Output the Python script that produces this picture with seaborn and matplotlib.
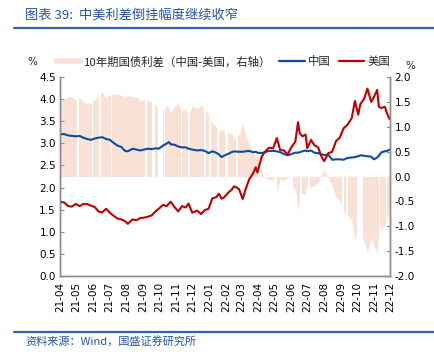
import matplotlib
matplotlib.use("Agg")
import matplotlib.pyplot as plt
import matplotlib.dates as mdates
from matplotlib.lines import Line2D
import seaborn as sns
import pandas as pd

# weekly-ish readings of the 10y government bond yields (%)
dates = [
    "2021-04-01", "2021-04-09", "2021-04-16", "2021-04-23", "2021-04-30", "2021-05-07",
    "2021-05-14", "2021-05-21", "2021-05-28", "2021-06-04", "2021-06-11", "2021-06-18",
    "2021-06-25", "2021-07-02", "2021-07-09", "2021-07-16", "2021-07-23", "2021-07-30",
    "2021-08-04", "2021-08-13", "2021-08-20", "2021-08-27", "2021-09-03", "2021-09-10",
    "2021-09-17", "2021-09-24", "2021-09-30", "2021-10-08", "2021-10-15", "2021-10-19",
    "2021-10-22", "2021-10-29", "2021-11-05", "2021-11-12", "2021-11-19", "2021-11-24",
    "2021-12-01", "2021-12-10", "2021-12-17", "2021-12-24", "2021-12-31", "2022-01-07",
    "2022-01-14", "2022-01-19", "2022-01-24", "2022-01-28", "2022-02-08", "2022-02-11",
    "2022-02-16", "2022-02-25", "2022-03-04", "2022-03-09", "2022-03-16", "2022-03-23",
    "2022-03-28", "2022-03-31", "2022-04-08", "2022-04-14", "2022-04-21", "2022-04-29",
    "2022-05-06", "2022-05-12", "2022-05-19", "2022-05-26", "2022-06-02", "2022-06-09",
    "2022-06-14", "2022-06-17", "2022-06-22", "2022-06-28", "2022-07-01", "2022-07-08",
    "2022-07-14", "2022-07-21", "2022-07-28", "2022-08-01", "2022-08-09", "2022-08-16",
    "2022-08-23", "2022-08-30", "2022-09-06", "2022-09-13", "2022-09-21", "2022-09-27",
    "2022-10-03", "2022-10-07", "2022-10-14", "2022-10-20", "2022-10-27", "2022-11-01",
    "2022-11-07", "2022-11-10", "2022-11-15", "2022-11-21", "2022-11-25", "2022-11-30",
]
cn_10y = [
    3.21, 3.21, 3.18, 3.17, 3.16, 3.17,
    3.13, 3.10, 3.08, 3.11, 3.13, 3.14,
    3.10, 3.08, 3.01, 2.95, 2.92, 2.83,
    2.82, 2.88, 2.86, 2.84, 2.86, 2.88,
    2.87, 2.89, 2.88, 2.95, 3.00, 3.03,
    2.98, 2.97, 2.93, 2.91, 2.91, 2.88,
    2.86, 2.84, 2.85, 2.83, 2.78, 2.82,
    2.79, 2.75, 2.69, 2.72, 2.78, 2.80,
    2.82, 2.81, 2.81, 2.82, 2.83, 2.80,
    2.81, 2.79, 2.78, 2.80, 2.83, 2.83,
    2.82, 2.80, 2.76, 2.73, 2.76, 2.79,
    2.79, 2.80, 2.82, 2.84, 2.82, 2.84,
    2.79, 2.78, 2.75, 2.74, 2.74, 2.63,
    2.64, 2.64, 2.63, 2.67, 2.68, 2.69,
    2.71, 2.73, 2.72, 2.71, 2.70, 2.64,
    2.68, 2.72, 2.80, 2.82, 2.83, 2.86,
]
us_10y = [
    1.68, 1.66, 1.58, 1.57, 1.63, 1.58,
    1.63, 1.63, 1.59, 1.56, 1.46, 1.44,
    1.52, 1.43, 1.36, 1.30, 1.28, 1.24,
    1.18, 1.28, 1.26, 1.31, 1.32, 1.34,
    1.37, 1.46, 1.52, 1.61, 1.58, 1.64,
    1.68, 1.56, 1.46, 1.58, 1.55, 1.64,
    1.43, 1.48, 1.40, 1.49, 1.52, 1.76,
    1.78, 1.86, 1.75, 1.77, 1.92, 1.94,
    2.03, 1.97, 1.74, 1.95, 2.19, 2.32,
    2.46, 2.34, 2.70, 2.81, 2.90, 2.89,
    3.12, 2.85, 2.84, 2.75, 2.92, 3.04,
    3.48, 3.23, 3.16, 3.20, 2.89, 3.08,
    2.96, 2.91, 2.68, 2.60, 2.78, 2.81,
    3.05, 3.13, 3.34, 3.42, 3.57, 3.96,
    3.65, 3.89, 4.01, 4.24, 3.94, 4.05,
    4.21, 3.83, 3.80, 3.83, 3.68, 3.55,
]
# trading days missing in one of the two markets (blank slots in the spread)
missing_days = [
    "2021-05-03", "2021-05-04", "2021-05-05", "2021-05-31", "2021-06-14", "2021-07-05",
    "2021-09-06", "2021-09-20", "2021-09-21", "2021-10-01", "2021-10-04", "2021-10-05",
    "2021-10-06", "2021-10-07", "2021-10-11", "2021-11-11", "2021-11-25", "2021-12-24",
    "2022-01-03", "2022-01-17", "2022-01-31", "2022-02-01", "2022-02-02", "2022-02-03",
    "2022-02-04", "2022-02-21", "2022-04-04", "2022-04-05", "2022-04-15", "2022-05-02",
    "2022-05-03", "2022-05-04", "2022-05-30", "2022-06-03", "2022-06-20", "2022-07-04",
    "2022-09-05", "2022-09-12", "2022-10-03", "2022-10-04", "2022-10-05", "2022-10-06",
    "2022-10-07", "2022-10-10", "2022-11-11", "2022-11-24",
]
xtick_start, xtick_end = "2021-04-01", "2022-12-01"

BLUE = "#0a4ca3"
RED = "#c00000"
PEACH = "#f9e2d5"
GREY = "#8c8c8c"
TITLE_BLUE = "#2356a8"
CJK = ["Noto Sans CJK SC", "DejaVu Sans"]

sns.set_theme(style="white")
plt.rcParams["font.family"] = ["DejaVu Sans", "Noto Sans CJK SC"]

df = pd.DataFrame({"date": pd.to_datetime(dates), "中国": cn_10y, "美国": us_10y})
df["利差"] = df["中国"] - df["美国"]

fig = plt.figure(figsize=(4.35, 3.57), dpi=100)
ax1 = fig.add_axes([0.138, 0.227, 0.759, 0.557])
ax2 = ax1.twinx()
ax1.set_zorder(ax2.get_zorder() + 1)
ax1.patch.set_visible(False)

# spread area on the right axis, with blank slots on missing days
ax2.fill_between(df["date"], df["利差"], 0, color=PEACH, linewidth=0, zorder=1)
half = pd.Timedelta(hours=36)
for d in pd.to_datetime(missing_days):
    ax2.axvspan(d - half, d + half, color="white", linewidth=0, zorder=1.5)

sns.lineplot(data=df, x="date", y="中国", ax=ax1, color=BLUE, linewidth=1.5, legend=False)
sns.lineplot(data=df, x="date", y="美国", ax=ax1, color=RED, linewidth=1.5, legend=False)

ax1.set_ylim(0, 4.5)
ax1.set_yticks([i * 0.5 for i in range(10)])
ax1.yaxis.set_major_formatter(matplotlib.ticker.FormatStrFormatter("%.1f"))
ax2.set_ylim(-2, 2)
ax2.set_yticks([-2 + i * 0.5 for i in range(9)])
ax2.yaxis.set_major_formatter(matplotlib.ticker.FormatStrFormatter("%.1f"))

ax1.set_xlim(pd.Timestamp(xtick_start), pd.Timestamp(xtick_end))
ax1.set_xticks(pd.date_range(xtick_start, xtick_end, freq="MS"))
ax1.xaxis.set_major_formatter(mdates.DateFormatter("%y-%m"))
ax1.set_xlabel("")
ax1.set_ylabel("")
ax2.set_ylabel("")

for ax in (ax1, ax2):
    for side in ("left", "right", "bottom"):
        ax.spines[side].set_color(GREY)
        ax.spines[side].set_linewidth(1.0)
    ax.spines["top"].set_visible(False)
    ax.tick_params(axis="both", labelsize=7.5, colors="black", pad=3)
    ax.tick_params(axis="y", direction="in", length=3, color=GREY, width=0.8)
    ax.grid(False)
ax1.tick_params(axis="x", direction="in", length=2, color=GREY, rotation=90, pad=4)

fig.text(0.074, 0.826, "%", fontsize=7.5, ha="center", va="center")
fig.text(0.943, 0.815, "%", fontsize=7.5, ha="center", va="center")

handles = [Line2D([], [], color=PEACH, linewidth=4),
           Line2D([], [], color=BLUE, linewidth=1.6),
           Line2D([], [], color=RED, linewidth=1.6)]
labels = ["10年期国债利差（中国-美国，右轴）", "中国", "美国"]
fig.legend(handles, labels, loc="center left", bbox_to_anchor=(0.128, 0.827), ncol=3,
           frameon=False, prop={"family": CJK, "size": 8.2}, handlelength=2.2,
           handletextpad=0.3, columnspacing=0.7, borderaxespad=0, borderpad=0)

# header / footer
fig.text(0.058, 0.958, "图表 39:  中美利差倒挂幅度继续收窄", fontsize=9.5, color=TITLE_BLUE,
         family=CJK, ha="left", va="center", style="italic")
fig.add_artist(Line2D([0.032, 1.0], [0.921, 0.921], color="#2e64b4", linewidth=1.6))
fig.add_artist(Line2D([0.032, 1.0], [0.07, 0.07], color="#2e64b4", linewidth=1.6))
fig.text(0.058, 0.045, "资料来源：Wind，国盛证券研究所", fontsize=8, color=TITLE_BLUE,
         family=CJK, ha="left", va="center", style="italic")

fig.savefig("out.png", dpi=100)
